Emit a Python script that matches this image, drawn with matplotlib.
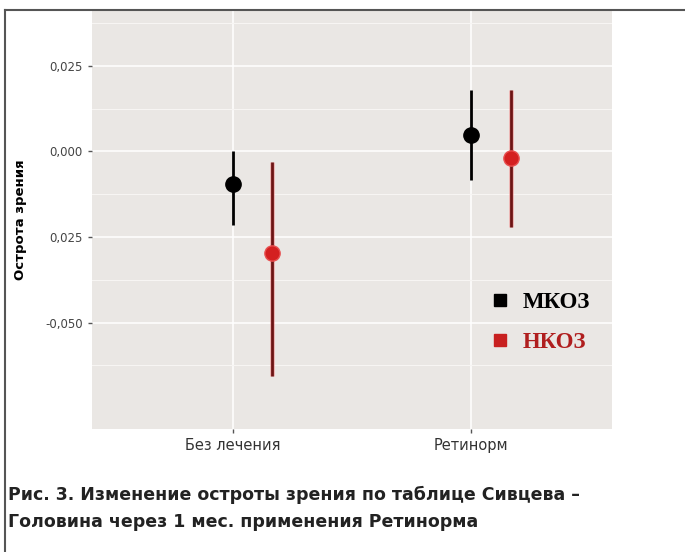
import matplotlib.pyplot as plt
from matplotlib.lines import Line2D

# data
groups = ["Без лечения", "Ретинорм"]
series = ["МКОЗ", "НКОЗ"]
mkoz_mean = [-0.0096, 0.0047]
mkoz_low = [-0.0216, -0.0085]
mkoz_high = [0.0000, 0.0180]
nkoz_mean = [-0.0298, -0.0018]
nkoz_low = [-0.0656, -0.0220]
nkoz_high = [-0.0032, 0.0180]
ytick_vals = [0.025, 0.0, -0.025, -0.050]
ytick_labels = ["0,025", "0,000", "0,025", "-0,050"]

fig = plt.figure(figsize=(6.85, 5.52), dpi=100)
ax = fig.add_axes([92 / 685, 1 - 429 / 552, 520 / 685, 418 / 552])
ax.set_facecolor("#EAE7E4")
for s in ax.spines.values():
    s.set_visible(False)

ax.set_ylim(-0.0811, 0.041)
ax.set_xlim(0.41, 2.59)
ax.set_yticks(ytick_vals)
ax.set_yticklabels(ytick_labels, fontsize=8.5, color="#444444")
ax.set_yticks([0.0375, 0.0125, -0.0125, -0.0375, -0.0625], minor=True)
ax.set_xticks([1, 2])
ax.set_xticklabels(groups, fontsize=10.5, color="#333333")
ax.tick_params(axis="both", which="major", length=3, width=1, color="#555555")
ax.tick_params(axis="y", which="minor", length=0)
ax.grid(True, which="major", color="white", lw=1.1)
ax.grid(True, which="minor", color="#F7F5F3", lw=0.8)
ax.set_axisbelow(True)

xs = [1, 2]
dodge = 0.165
for i in range(2):
    x = xs[i]
    ax.plot([x, x], [mkoz_low[i], mkoz_high[i]], color="black", lw=2, solid_capstyle="butt")
    ax.plot(x, mkoz_mean[i], "o", color="black", ms=11)
    x2 = x + dodge
    ax.plot([x2, x2], [nkoz_low[i], nkoz_high[i]], color="#F08080", lw=3.5, alpha=0.5, solid_capstyle="butt")
    ax.plot([x2, x2], [nkoz_low[i], nkoz_high[i]], color="#6E1414", lw=2, solid_capstyle="butt")
    ax.plot(x2, nkoz_mean[i], "o", color="#D42020", mec="#E85050", ms=11)

ax.set_ylabel("Острота зрения", fontsize=9.5, fontweight="bold", labelpad=13)

handles = [Line2D([], [], marker="s", ls="", color="black", ms=9),
           Line2D([], [], marker="s", ls="", color="#C82020", ms=9)]
leg = ax.legend(handles, series, loc="upper left", bbox_to_anchor=(0.723, 0.378),
                frameon=False, prop={"family": "Liberation Serif", "weight": "bold", "size": 16.5},
                handletextpad=0.5, labelspacing=0.85, handlelength=1.0)
leg.get_texts()[1].set_color("#B01E1E")

# outer frame of the figure (top and left)
fig.add_artist(Line2D([5 / 685, 1], [1 - 10 / 552, 1 - 10 / 552], color="#555555", lw=1.5))
fig.add_artist(Line2D([5 / 685, 5 / 685], [0, 1 - 10 / 552], color="#555555", lw=1.5))

fig.text(8 / 685, 1 - 495 / 552, "Рис. 3. Изменение остроты зрения по таблице Сивцева –",
         fontsize=12.5, fontweight="bold", color="#222222", va="center")
fig.text(8 / 685, 1 - 522 / 552, "Головина через 1 мес. применения Ретинорма",
         fontsize=12.5, fontweight="bold", color="#222222", va="center")

fig.savefig("out.png", dpi=100, facecolor="white")
